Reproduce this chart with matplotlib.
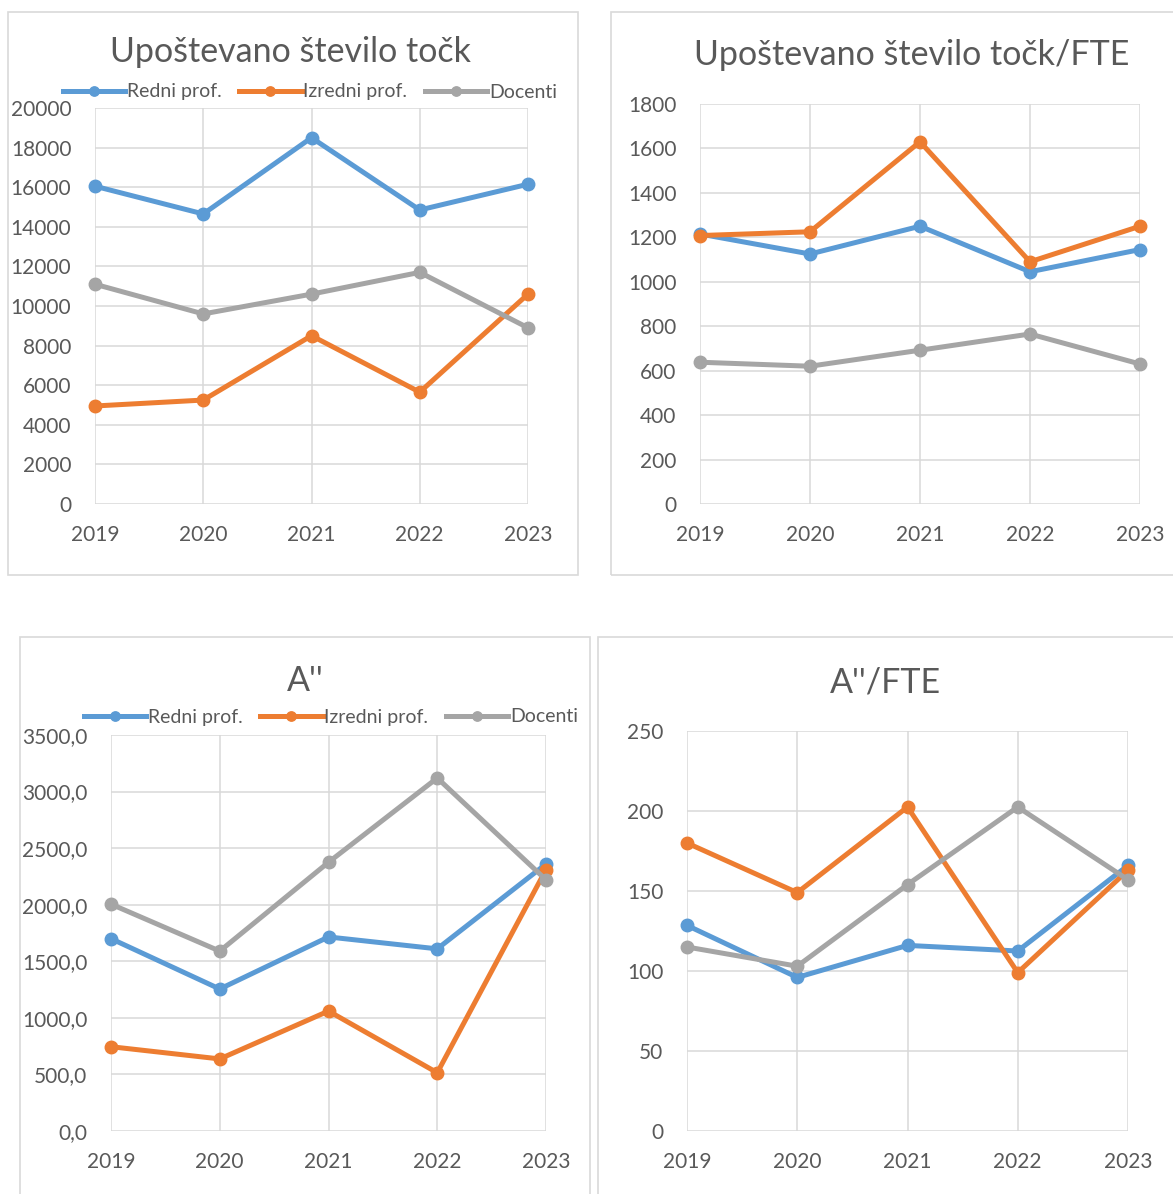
import matplotlib
matplotlib.use("Agg")
import matplotlib.pyplot as plt
from matplotlib.patches import Rectangle
from matplotlib.ticker import FuncFormatter

plt.rcParams["font.family"] = ["Lato", "DejaVu Sans"]

W, H = 1173, 1194

years = [2019, 2020, 2021, 2022, 2023]
series_names = ["Redni prof.", "Izredni prof.", "Docenti"]
colors = ["#5B9BD5", "#ED7D31", "#A5A5A5"]

# Upoštevano število točk
tocke_redni = [16050, 14650, 18500, 14850, 16150]
tocke_izredni = [4950, 5250, 8500, 5650, 10600]
tocke_docenti = [11100, 9600, 10600, 11700, 8900]

# Upoštevano število točk/FTE
tocke_fte_redni = [1215, 1125, 1250, 1045, 1145]
tocke_fte_izredni = [1208, 1225, 1630, 1090, 1250]
tocke_fte_docenti = [638, 620, 692, 765, 630]

# A''
a_redni = [1700, 1255, 1715, 1610, 2360]
a_izredni = [745, 637, 1060, 515, 2310]
a_docenti = [2005, 1590, 2375, 3120, 2220]

# A''/FTE
a_fte_redni = [128.5, 96, 116, 112.5, 166]
a_fte_izredni = [180, 149, 202.5, 99, 163]
a_fte_docenti = [115, 103, 154, 202.5, 157]

TXT = "#595959"
GRID = "#D9D9D9"

fig = plt.figure(figsize=(W / 100, H / 100), dpi=100)


def fx(x):
    return x / W


def fy(y):
    return 1 - y / H


def panel(box, plot, title, title_xy, data, ymax, ystep, fmt=None, legend_xy=None):
    # chart frame
    x0, y0, x1, y1 = box
    fig.patches.append(Rectangle((fx(x0), fy(y1)), fx(x1 - x0), (y1 - y0) / H,
                                 transform=fig.transFigure, fill=False,
                                 edgecolor="#D9D9D9", lw=1.2))
    px0, py0, px1, py1 = plot
    ax = fig.add_axes([fx(px0), fy(py1), fx(px1 - px0), (py1 - py0) / H])
    for vals, name, c in zip(data, series_names, colors):
        ax.plot(years, vals, color=c, lw=3.6, marker="o", ms=9, label=name,
                clip_on=False, solid_joinstyle="round", zorder=3)
    ax.set_xlim(years[0], years[-1])
    ax.set_ylim(0, ymax)
    ax.set_xticks(years)
    ax.set_yticks([ystep * i for i in range(int(round(ymax / ystep)) + 1)])
    if fmt:
        ax.yaxis.set_major_formatter(FuncFormatter(fmt))
    ax.grid(True, color=GRID, lw=1.1)
    ax.set_axisbelow(True)
    for s in ax.spines.values():
        s.set_visible(False)
    ax.tick_params(length=0, labelsize=15, labelcolor=TXT)
    ax.tick_params(axis="y", pad=17)
    ax.tick_params(axis="x", pad=15)
    fig.text(fx(title_xy[0]), fy(title_xy[1]), title, ha="center", va="center",
             fontsize=24.5, color=TXT)
    if legend_xy:
        ax.legend(loc="center", bbox_to_anchor=(fx(legend_xy[0]), fy(legend_xy[1])),
                  bbox_transform=fig.transFigure, ncol=3, frameon=False,
                  fontsize=14, labelcolor=TXT, handlelength=3.2, handletextpad=0.1,
                  columnspacing=0.9, markerscale=0.75)
    return ax


panel((8, 12, 578, 575), (95, 108, 528, 504), "Upoštevano število točk", (290, 52),
      [tocke_redni, tocke_izredni, tocke_docenti], 20000, 2000, legend_xy=(310, 92))
panel((611, 12, 1185, 575), (700, 104, 1140, 504), "Upoštevano število točk/FTE", (912, 55),
      [tocke_fte_redni, tocke_fte_izredni, tocke_fte_docenti], 1800, 200)
panel((20, 637, 590, 1200), (111, 735, 546, 1131), "A''", (305, 681),
      [a_redni, a_izredni, a_docenti], 3500, 500,
      fmt=lambda v, p: f"{v:.1f}".replace(".", ","), legend_xy=(331, 717))
panel((598, 637, 1185, 1200), (687, 731, 1128, 1131), "A''/FTE", (885, 682),
      [a_fte_redni, a_fte_izredni, a_fte_docenti], 250, 50)

fig.savefig("out.png", dpi=100, facecolor="white")
